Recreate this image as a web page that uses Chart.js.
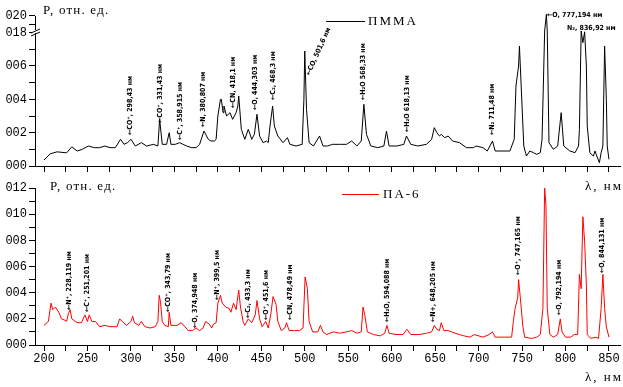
<!DOCTYPE html>
<html>
<head>
<meta charset="utf-8">
<script src="https://cdn.jsdelivr.net/npm/chart.js@4.4.0/dist/chart.umd.min.js"></script>
<style>
  html, body { margin: 0; padding: 0; background: #fff; }
  #wrap { position: relative; width: 623px; height: 387px; }
  #wrap canvas { position: absolute; left: 0; top: 0; }
</style>
</head>
<body>
<div id="wrap">
  <canvas id="pa6Chart" width="623" height="387"></canvas>
  <canvas id="pmmaChart" width="623" height="387"></canvas>
</div>
<script>
// PMMA spectrum (top panel), wavelength in nm and relative intensity
const pmmaNm = [200, 207, 215, 226, 232, 238, 244, 251, 258, 264, 270, 276, 282, 288, 292, 296, 300, 305, 312, 318,
  326, 331, 333, 336, 341, 344, 346, 351, 356, 360, 364, 370, 375, 379, 384, 389, 392, 396, 398, 400,
  403, 404, 406, 407, 410, 414, 417, 421, 423, 424, 427, 431, 435, 439, 442, 445, 448, 452, 456, 458,
  460, 463, 465, 469, 475, 480, 483, 490, 497, 499, 500, 502, 505, 510, 517, 521, 526, 532, 540, 548,
  554, 560, 565, 568, 571, 576, 584, 591, 594, 597, 606, 614, 617, 622, 630, 640, 646, 649, 652, 655,
  657, 661, 665, 670, 678, 686, 694, 697, 705, 710, 716, 719, 727, 736, 741, 743, 746, 747, 749, 752,
  755, 759, 763, 767, 771, 773, 776, 778, 779, 781, 786, 791, 795, 798, 805, 811, 815, 816, 818, 820,
  822, 824, 825, 828, 832, 834, 836, 839, 841, 843, 845, 847, 848, 850];
const pmmaVal = [0.00036, 0.00073, 0.00085, 0.00079, 0.00115, 0.0009, 0.001, 0.0012, 0.0011, 0.0011, 0.0012, 0.0011, 0.0011, 0.0016, 0.0013, 0.0014, 0.0016, 0.0012, 0.0014, 0.0012,
  0.0013, 0.0012, 0.0028, 0.0013, 0.0013, 0.002, 0.0013, 0.0013, 0.0014, 0.0013, 0.0012, 0.0011, 0.0011, 0.0013, 0.0021, 0.0016, 0.0015, 0.0015, 0.0016, 0.003,
  0.004, 0.004, 0.0032, 0.0036, 0.003, 0.0032, 0.0028, 0.0032, 0.0036, 0.0042, 0.0022, 0.0016, 0.0022, 0.0016, 0.0019, 0.0031, 0.0018, 0.0014, 0.0015, 0.0014,
  0.0024, 0.0036, 0.0024, 0.0018, 0.0014, 0.0017, 0.0013, 0.0012, 0.0013, 0.004, 0.0069, 0.0034, 0.0014, 0.0012, 0.0018, 0.0012, 0.0012, 0.0013, 0.0013, 0.0013,
  0.0015, 0.0012, 0.0015, 0.0037, 0.0019, 0.0012, 0.0011, 0.0012, 0.0021, 0.0012, 0.0012, 0.0013, 0.0018, 0.0013, 0.0012, 0.0013, 0.0016, 0.0023, 0.002, 0.0018,
  0.0019, 0.0017, 0.0018, 0.0015, 0.0014, 0.0011, 0.0011, 0.0012, 0.0011, 0.0009, 0.0015, 0.0009, 0.0009, 0.0009, 0.0016, 0.0048, 0.006, 0.0072, 0.0048, 0.0012,
  0.0006, 0.0009, 0.0008, 0.0007, 0.0008, 0.0016, 0.0182, 0.0202, 0.0182, 0.0014, 0.001, 0.0012, 0.0032, 0.0012, 0.0009, 0.0008, 0.0012, 0.0022, 0.0182, 0.0074,
  0.0181, 0.006, 0.0024, 0.0008, 0.0006, 0.0009, 0.0006, 0.0002, 0.0008, 0.0012, 0.0072, 0.004, 0.0012, 0.0004];

// PA-6 spectrum (bottom panel)
const pa6Nm = [200, 205, 208, 210, 213, 217, 220, 224, 226, 228, 230, 232, 236, 239, 243, 247, 250, 252, 255, 259,
  264, 270, 276, 284, 287, 290, 295, 300, 302, 304, 309, 312, 316, 322, 328, 331, 332.5, 334, 336, 339,
  343, 344, 346, 353, 358, 362, 366, 371, 375, 379, 383, 386, 390, 393, 395, 398, 400, 403, 405, 409,
  413, 415, 418, 421, 424, 426, 429, 431, 435, 439, 443, 445, 448, 451, 455, 458, 461, 463.5, 467, 469,
  473, 477, 479, 482, 488, 494, 498, 500.4, 503, 505, 509, 515, 518, 521, 525, 533, 540, 548, 554, 560,
  565, 567, 569, 572, 579, 587, 592, 594.6, 597, 605, 613, 617.6, 622, 632, 640, 646, 649, 652, 655, 657,
  660, 665, 673, 683, 690, 695, 705, 712, 716, 719, 729, 738, 740, 742, 745, 746, 748, 751, 753, 761,
  767, 771, 774, 776, 777.5, 779, 782, 786, 791, 794, 796, 800, 806, 810, 814, 816, 818, 820, 822, 824,
  825, 829, 835, 838, 841, 843, 845, 847, 850];
const pa6Val = [0.0015, 0.0018, 0.0032, 0.0027, 0.0029, 0.0025, 0.002, 0.0019, 0.0018, 0.0024, 0.0027, 0.002, 0.0018, 0.0017, 0.0017, 0.0023, 0.0018, 0.0023, 0.0018, 0.0018,
  0.0014, 0.0015, 0.0014, 0.0014, 0.002, 0.0018, 0.0015, 0.0018, 0.0022, 0.0017, 0.0015, 0.0018, 0.0014, 0.0013, 0.0014, 0.0018, 0.0038, 0.0033, 0.0018, 0.0015,
  0.0014, 0.0025, 0.0015, 0.0015, 0.0017, 0.0014, 0.0011, 0.0011, 0.0013, 0.0011, 0.0013, 0.0018, 0.0016, 0.0013, 0.0016, 0.0017, 0.0032, 0.0038, 0.0032, 0.0029,
  0.0028, 0.0025, 0.0032, 0.0027, 0.0042, 0.0029, 0.0018, 0.0015, 0.002, 0.0017, 0.0023, 0.0034, 0.002, 0.0014, 0.0018, 0.0013, 0.0024, 0.0037, 0.0031, 0.0018,
  0.0011, 0.0013, 0.0017, 0.0011, 0.0011, 0.0011, 0.0013, 0.0052, 0.0043, 0.0018, 0.001, 0.001, 0.0015, 0.001, 0.0008, 0.001, 0.0009, 0.001, 0.0011, 0.0009,
  0.001, 0.0029, 0.0023, 0.001, 0.0008, 0.0007, 0.0009, 0.0015, 0.0009, 0.0008, 0.0008, 0.0012, 0.0008, 0.0008, 0.0009, 0.001, 0.0015, 0.0012, 0.0011, 0.0017,
  0.0011, 0.0011, 0.0009, 0.0007, 0.0006, 0.0008, 0.0006, 0.0008, 0.001, 0.0006, 0.0006, 0.0006, 0.0018, 0.0028, 0.0036, 0.005, 0.0036, 0.0014, 0.0006, 0.0005,
  0.0006, 0.0008, 0.0028, 0.012, 0.0107, 0.0028, 0.0008, 0.0006, 0.0008, 0.002, 0.001, 0.0006, 0.0006, 0.0008, 0.0008, 0.0054, 0.0043, 0.0098, 0.0079, 0.0046,
  0.0008, 0.0005, 0.0006, 0.0005, 0.0028, 0.0054, 0.0028, 0.0014, 0.0006];

// axis ticks
const xTicks = [200, 225, 250, 275, 300, 325, 350, 375, 400, 425, 450, 475, 500, 525, 550, 575, 600, 625, 650, 675, 700, 725, 750, 775, 800, 825, 850];
const xTickLabels = [200, 250, 300, 350, 400, 450, 500, 550, 600, 650, 700, 750, 800, 850];
const pmmaYTicks = [0, 0.001, 0.002, 0.003, 0.004, 0.005, 0.006, 0.007, 0.018, 0.019, 0.020];
const pmmaYLabels = ["000", "", "002", "", "004", "", "006", "", "018", "", "020"];
const pa6YTicks = [0, 0.001, 0.002, 0.003, 0.004, 0.005, 0.006, 0.007, 0.008, 0.009, 0.010, 0.011, 0.012];
const pa6YLabels = ["000", "", "002", "", "004", "", "006", "", "008", "", "010", "", "012"];

// line identifications
const pmmaNotes = ["←CO⁺, 298,43 нм", "←CO⁺, 331,43 нм", "←C⁺, 358,915 нм", "←N, 380,807 нм", "←CN, 418,1 нм",
  "←O, 444,303 нм", "←C₂, 468,3 нм", "←CO, 501,6 нм", "←H₂O 568,33 нм", "←H₂O 618,13 нм", "←N₂ 711,48 нм",
  "←O, 777,194 нм", "N₂, 836,92 нм"];
const pmmaNoteNm = [298.9, 333.5, 356.5, 383, 417.4, 442.8, 463.5, 503.7, 567, 617.6, 715.4, 778.7, 801.7];
const pmmaNoteVal = [0.00186, 0.00258, 0.00156, 0.00234, 0.00348, 0.00336, 0.00396, 0.00546, 0.00396, 0.00204, 0.00186, 0.0201, 0.01856];
const pmmaNoteAngle = [-90, -90, -90, -90, -90, -90, -90, -66, -90, -90, -90, 0, 0];

const pa6Notes = ["←N⁺, 228,119 нм", "←C⁺, 251,201 нм", "←CO⁺, 343,79 нм", "←O, 374,948 нм", "←N⁺, 399,5 нм",
  "←C₂, 433,3 нм", "←O⁺, 451,6 нм", "←CN, 478,49 нм", "←H₂O, 594,088 нм", "←N+, 648,205 нм",
  "←O⁺, 747,165 нм", "←O, 792,194 нм", "←O, 844,131 нм"];
const pa6NoteNm = [228.8, 249.5, 342.7, 373.7, 399, 434.7, 455.4, 483, 594.6, 647.5, 745.3, 792.5, 842];
const pa6NoteVal = [0.00268, 0.00252, 0.00252, 0.0013, 0.00344, 0.00206, 0.00191, 0.00191, 0.00176, 0.00176, 0.00535, 0.00229, 0.0055];

// broken y axis of the top panel: 0.008..0.018 is cut out, 0.018..0.020 is squeezed
function brk(v) {
  if (v <= 0.008) return v;
  if (v >= 0.018) return 0.008 + (v - 0.018) / 2;
  return 0.008;
}

const monoFont = { family: "'Liberation Mono', 'DejaVu Sans Mono', monospace", size: 12 };
const serif = "'Liberation Serif', 'DejaVu Serif', serif";

function xAxis(showLabels) {
  return {
    type: "linear",
    min: 189.6,
    max: 862.7,
    afterBuildTicks: (s) => { s.ticks = xTicks.map((v) => ({ value: v })); },
    afterFit: (s) => { s.height = showLabels ? 24 : 6; },
    grid: { drawOnChartArea: false, drawTicks: true, tickLength: 6, tickColor: "#000" },
    border: { display: true, color: "#000", width: 1 },
    ticks: {
      display: showLabels,
      autoSkip: false,
      maxRotation: 0,
      padding: 1,
      color: "#000",
      font: monoFont,
      callback: (v) => (xTickLabels.includes(v) ? String(v) : ""),
    },
  };
}

function yAxis(max, tickVals, labels, map) {
  return {
    type: "linear",
    min: 0,
    max: max,
    afterBuildTicks: (s) => { s.ticks = tickVals.map((v) => ({ value: map(v) })); },
    afterFit: (s) => { s.width = 35; },
    grid: { drawOnChartArea: false, drawTicks: true, tickLength: 6, tickColor: "#000" },
    border: { display: true, color: "#000", width: 1 },
    ticks: {
      autoSkip: false,
      padding: 2,
      color: "#000",
      font: monoFont,
      callback: (v, i) => labels[i],
    },
  };
}

function spacedText(ctx, text, x, y, spacing) {
  ctx.letterSpacing = spacing + "px";
  ctx.fillText(text, x, y);
  ctx.letterSpacing = "0px";
}

function drawNotes(chart, texts, nms, vals, angles, map) {
  const ctx = chart.ctx;
  const xs = chart.scales.x;
  const ys = chart.scales.y;
  ctx.save();
  ctx.fillStyle = "#000";
  ctx.font = "bold 7px 'DejaVu Sans Condensed', 'DejaVu Sans', sans-serif";
  ctx.textAlign = "left";
  ctx.textBaseline = "middle";
  texts.forEach((t, i) => {
    const px = xs.getPixelForValue(nms[i]);
    const py = ys.getPixelForValue(map(vals[i]));
    ctx.save();
    ctx.translate(px, py);
    ctx.rotate(((angles ? angles[i] : -90) * Math.PI) / 180);
    ctx.fillText(t, 0, 0);
    ctx.restore();
  });
  ctx.restore();
}

function drawFrameTexts(ctx, titleY, lambdaY, legendY, legendX, legendText, color) {
  ctx.save();
  ctx.fillStyle = "#000";
  ctx.textBaseline = "middle";
  ctx.textAlign = "left";
  ctx.font = "13px " + serif;
  spacedText(ctx, "P, отн. ед.", legendX.title, titleY, 1.2);
  spacedText(ctx, "λ, нм", 585, lambdaY, 2);
  // legend
  ctx.strokeStyle = color;
  ctx.lineWidth = 1;
  ctx.beginPath();
  ctx.moveTo(legendX.line0, legendY + 0.5);
  ctx.lineTo(legendX.line1, legendY + 0.5);
  ctx.stroke();
  spacedText(ctx, legendText, legendX.text, legendY + 1, 2);
  ctx.restore();
}

const pmmaDecor = {
  id: "pmmaDecor",
  afterDraw(chart) {
    const ctx = chart.ctx;
    const left = chart.chartArea.left;
    const yb = chart.scales.y.getPixelForValue(0.0081);
    // axis break marks
    ctx.save();
    ctx.fillStyle = "#fff";
    ctx.fillRect(left - 3, yb - 1, 7, 3);
    ctx.strokeStyle = "#000";
    ctx.lineWidth = 1;
    ctx.beginPath();
    ctx.moveTo(left - 4, yb + 2);
    ctx.lineTo(left + 5, yb - 2);
    ctx.moveTo(left - 4, yb + 5);
    ctx.lineTo(left + 5, yb + 1);
    ctx.stroke();
    ctx.restore();
    drawFrameTexts(ctx, 11, 187, 21, { title: 43, line0: 326, line1: 365, text: 368 }, "ПММА", "#000");
    drawNotes(chart, pmmaNotes, pmmaNoteNm, pmmaNoteVal, pmmaNoteAngle, brk);
  },
};

const pa6Decor = {
  id: "pa6Decor",
  afterDraw(chart) {
    drawFrameTexts(chart.ctx, 187, 378, 194, { title: 50, line0: 342, line1: 379, text: 383 }, "ПА-6", "#ff0000");
    drawNotes(chart, pa6Notes, pa6NoteNm, pa6NoteVal, null, (v) => v);
  },
};

const common = {
  responsive: false,
  animation: false,
  events: [],
  plugins: { legend: { display: false }, tooltip: { enabled: false } },
};

new Chart(document.getElementById("pmmaChart"), {
  type: "line",
  data: {
    datasets: [{
      label: "ПММА",
      data: pmmaNm.map((x, i) => ({ x: x, y: brk(pmmaVal[i]) })),
      borderColor: "#000",
      borderWidth: 1,
      pointRadius: 0,
      tension: 0,
      clip: false,
    }],
  },
  options: Object.assign({}, common, {
    layout: { padding: { left: 0, right: 3, top: 16, bottom: 215 } },
    scales: {
      x: xAxis(false),
      y: yAxis(0.009, pmmaYTicks, pmmaYLabels, brk),
    },
  }),
  plugins: [pmmaDecor],
});

new Chart(document.getElementById("pa6Chart"), {
  type: "line",
  data: {
    datasets: [{
      label: "ПА-6",
      data: pa6Nm.map((x, i) => ({ x: x, y: pa6Val[i] })),
      borderColor: "#ff0000",
      borderWidth: 1,
      pointRadius: 0,
      tension: 0,
      clip: false,
    }],
  },
  options: Object.assign({}, common, {
    layout: { padding: { left: 0, right: 3, top: 188, bottom: 18 } },
    scales: {
      x: xAxis(true),
      y: yAxis(0.012, pa6YTicks, pa6YLabels, (v) => v),
    },
  }),
  plugins: [pa6Decor],
});
</script>
</body>
</html>
